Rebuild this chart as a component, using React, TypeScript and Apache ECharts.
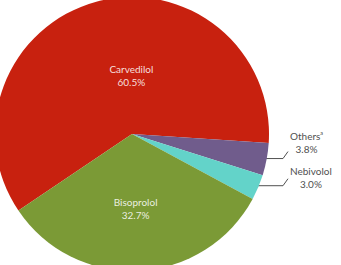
import React, { useEffect, useRef } from "react";
import * as echarts from "echarts";

// Share of patients by beta-blocker (percent)
const drugs = ["Carvedilol", "Others", "Nebivolol", "Bisoprolol"];
const shares = [60.5, 3.8, 3.0, 32.7];
const sliceColors = ["#c8210f", "#705c8c", "#63d3c9", "#7b9a36"];

const CENTER: [number, number] = [132, 134];
const RADIUS = 137;
const START_ANGLE = 214;
const FONT = "Lato";

// mid angle (degrees, counter-clockwise from +x) of each slice, walking clockwise
function midAngles(): number[] {
  const total = shares.reduce((a, b) => a + b, 0);
  let acc = START_ANGLE;
  return shares.map((v) => {
    const span = (v / total) * 360;
    const mid = acc - span / 2;
    acc -= span;
    return mid;
  });
}

export default function App() {
  const ref = useRef<HTMLDivElement>(null);

  useEffect(() => {
    document.body.style.margin = "0";
    const chart = echarts.init(ref.current!, null, { renderer: "svg" });
    const mids = midAngles();
    const [cx, cy] = CENTER;

    chart.setOption({
      animation: false,
      series: [
        {
          type: "pie",
          center: CENTER,
          radius: RADIUS,
          startAngle: START_ANGLE,
          clockwise: true,
          silent: true,
          avoidLabelOverlap: false,
          itemStyle: { borderWidth: 0 },
          data: drugs.map((name, i) => {
            const inside = shares[i] > 10;
            return {
              name,
              value: shares[i],
              itemStyle: { color: sliceColors[i] },
              label: inside
                ? { position: "inside", color: "rgba(255,255,255,0.86)" }
                : { position: "outside", color: "#505050" },
              labelLine: {
                show: !inside,
                lineStyle: { color: "#505050", width: 1 },
              },
            };
          }),
          label: {
            fontFamily: FONT,
            fontSize: 10,
            lineHeight: 13,
            align: "center",
            formatter: (p: any) => {
              const title = p.name === "Others" ? "Others{sup|a}" : p.name;
              return `${title}\n${Number(p.value).toFixed(1)}%`;
            },
            rich: {
              sup: {
                fontFamily: FONT,
                fontSize: 5.5,
                color: "#505050",
                verticalAlign: "top",
                padding: [0, 0, 4, 0],
              },
            },
          },
          labelLayout: (p: any) => {
            const i = p.dataIndex;
            if (shares[i] > 10) {
              // nudge the two large labels toward the slice body
              return i === 0 ? { dx: 18, dy: 11 } : { dx: 0, dy: 3 };
            }
            const a = (mids[i] * Math.PI) / 180;
            const sx = cx + (RADIUS - 4) * Math.cos(a);
            const sy = cy - (RADIUS - 4) * Math.sin(a);
            const kx = cx + RADIUS + 14;
            const ex = kx + 5;
            const ey = sy - 7;
            const w = p.labelRect ? p.labelRect.width : 30;
            return {
              x: ex + 2 + w / 2,
              y: ey + (i === 1 ? -9 : -1),
              align: "center",
              verticalAlign: "middle",
              labelLinePoints: [
                [sx, sy],
                [kx, sy],
                [ex, ey],
              ],
            };
          },
        },
      ],
    });

    return () => chart.dispose();
  }, []);

  return <div ref={ref} style={{ width: 341, height: 265 }} />;
}
